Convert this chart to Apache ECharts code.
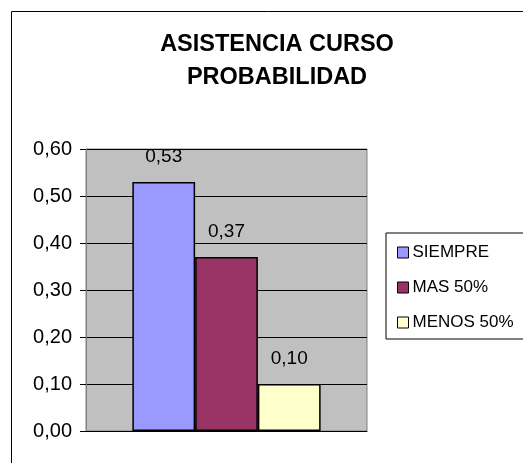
<!DOCTYPE html>
<html>
<head>
<meta charset="utf-8">
<style>
  html, body { margin: 0; padding: 0; background: #fff; }
  #chart { width: 523px; height: 463px; }
</style>
<script src="https://cdn.jsdelivr.net/npm/echarts@6/dist/echarts.min.js"></script>
</head>
<body>
<div id="chart"></div>
<script>
// Attendance probability for the course, one bar per group
const categories = [''];
const seriesNames = ['SIEMPRE', 'MAS 50%', 'MENOS 50%'];
const seriesValues = [0.53, 0.37, 0.10];
const seriesColors = ['#9999FF', '#993366', '#FFFFCC'];
const titleLines = ['ASISTENCIA CURSO', 'PROBABILIDAD'];

const FONT = '"Liberation Sans", Arial, sans-serif';
const fmt = v => v.toFixed(2).replace('.', ',');

const chart = echarts.init(document.getElementById('chart'), null, { renderer: 'canvas' });

chart.setOption({
  animation: false,
  backgroundColor: '#ffffff',
  graphic: [
    {
      type: 'rect',
      shape: { x: 11.5, y: 11.5, width: 700, height: 700 },
      style: { fill: 'none', stroke: '#000', lineWidth: 1 },
      silent: true
    },
    {
      type: 'text',
      x: 277,
      y: 28,
      style: {
        text: titleLines.join('\n'),
        fontFamily: FONT,
        fontWeight: 'bold',
        fontSize: 23.5,
        lineHeight: 33,
        fill: '#000',
        align: 'center'
      },
      silent: true
    }
  ],
  legend: {
    orient: 'vertical',
    left: 386,
    top: 233,
    padding: [11, 12, 8, 11],
    itemWidth: 11,
    itemHeight: 11,
    itemGap: 18,
    icon: 'rect',
    borderColor: '#000',
    borderWidth: 1,
    backgroundColor: '#fff',
    itemStyle: { borderColor: '#000', borderWidth: 1 },
    textStyle: { fontFamily: FONT, fontSize: 17, color: '#000', padding: [0, 0, 0, -1] },
    data: seriesNames
  },
  grid: {
    left: 86,
    top: 149,
    width: 281,
    height: 282,
    show: true,
    backgroundColor: '#C0C0C0',
    borderColor: '#808080',
    borderWidth: 1
  },
  xAxis: {
    type: 'category',
    data: categories,
    axisLine: { show: true, lineStyle: { color: '#000', width: 1 } },
    axisTick: { show: false },
    axisLabel: { show: false }
  },
  yAxis: {
    type: 'value',
    min: 0,
    max: 0.6,
    interval: 0.1,
    axisLine: { show: true, lineStyle: { color: '#808080', width: 1 } },
    axisTick: { show: true, length: 6, lineStyle: { color: '#000' } },
    axisLabel: {
      fontFamily: FONT,
      fontSize: 20,
      color: '#000',
      margin: 14,
      formatter: v => fmt(v)
    },
    splitLine: { show: true, lineStyle: { color: '#000', width: 1 } }
  },
  series: seriesNames.map((name, i) => ({
    name: name,
    type: 'bar',
    data: [seriesValues[i]],
    barGap: '0%',
    barCategoryGap: '33%',
    itemStyle: { color: seriesColors[i], borderColor: '#000', borderWidth: 1.5 },
    label: {
      show: true,
      position: 'top',
      distance: 16,
      fontFamily: FONT,
      fontSize: 19,
      color: '#000',
      formatter: p => fmt(p.value)
    }
  }))
});
</script>
</body>
</html>
